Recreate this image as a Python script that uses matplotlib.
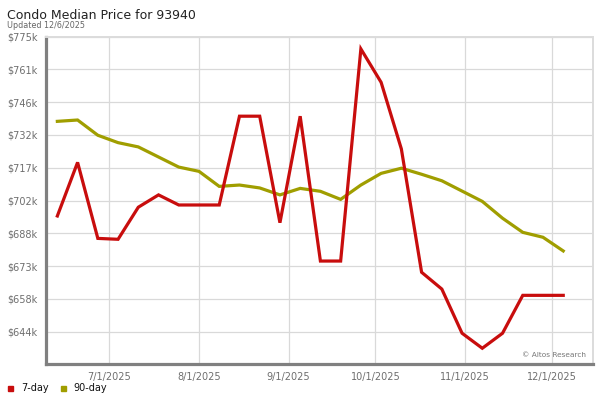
import matplotlib
matplotlib.use("Agg")
import matplotlib.pyplot as plt
import matplotlib.dates as mdates
from matplotlib.patches import Rectangle
import numpy as np
import pandas as pd

# ---- data (values in $k) ----
dates = pd.date_range("2025-06-13", "2025-12-05", freq="7D")
price_7day = [695.4, 719.3, 685.4, 685.0, 699.3, 704.8, 700.3, 700.3, 700.3,
              739.9, 739.9, 692.4, 739.9, 675.3, 675.3, 769.9, 755.0, 725.3,
              670.3, 662.8, 643.1, 636.4, 643.1, 660.0, 660.0, 660.0]
price_90day = [737.6, 738.2, 731.4, 728.1, 726.2, 721.7, 717.2, 715.3, 708.6,
               709.2, 707.9, 704.8, 707.7, 706.4, 702.8, 709.2, 714.4, 716.7,
               714.0, 711.1, 706.5, 701.9, 694.4, 688.1, 685.9, 679.8]
y_tick_labels = ["$775k", "$761k", "$746k", "$732k", "$717k", "$702k",
                 "$688k", "$673k", "$658k", "$644k"]
y_top, y_step = 775.4, 14.62
x_tick_dates = ["2025-07-01", "2025-08-01", "2025-09-01", "2025-10-01",
                "2025-11-01", "2025-12-01"]
x_tick_labels = ["7/1/2025", "8/1/2025", "9/1/2025", "10/1/2025",
                 "11/1/2025", "12/1/2025"]
title = "Condo Median Price for 93940"
subtitle = "Updated 12/6/2025"
series_names = ["7-day", "90-day"]

RED = "#c80d0d"
OLIVE = "#a09e00"
GRID = "#d9d9d9"

fig = plt.figure(figsize=(6, 4), dpi=100)
W, H = 600, 400
left, right, top, bottom = 45.5, 593.3, 36.6, 364.4
ax = fig.add_axes([left / W, 1 - bottom / H, (right - left) / W, (bottom - top) / H])

x = mdates.date2num(dates)
ax.plot(x, price_90day, color=OLIVE, lw=2.3, solid_joinstyle="miter", zorder=3)
ax.plot(x, price_7day, color=RED, lw=2.3, solid_joinstyle="miter", zorder=4)

yt = [y_top - i * y_step for i in range(len(y_tick_labels))]
ax.set_ylim(y_top - len(y_tick_labels) * y_step, y_top)
ax.set_yticks(yt)
ax.set_yticklabels(y_tick_labels)

xt = mdates.date2num(pd.to_datetime(x_tick_dates))
ax.set_xticks(xt)
ax.set_xticklabels(x_tick_labels)
ax.set_xlim(x[0] - 4.1, x[-1] + 10.4)

ax.grid(True, color=GRID, lw=0.9)
ax.set_axisbelow(True)
ax.tick_params(axis="both", length=0, labelsize=7, labelcolor="#6e6e6e")
ax.tick_params(axis="y", pad=5.5)
ax.tick_params(axis="x", pad=5.2)

for s in ["left", "bottom"]:
    ax.spines[s].set_color("#808080")
    ax.spines[s].set_linewidth(2.3)
for s in ["top", "right"]:
    ax.spines[s].set_color("#dcdcdc")
    ax.spines[s].set_linewidth(1.4)

ax.text(0.987, 0.0235, "\u00a9 Altos Research", transform=ax.transAxes,
        ha="right", va="baseline", fontsize=5.3, color="#777777")

fig.text(7 / W, 1 - 18.7 / H, title, fontsize=9, color="#222222",
         ha="left", va="baseline")
fig.text(7 / W, 1 - 27.8 / H, subtitle, fontsize=5.8, color="#666666",
         ha="left", va="baseline")

# legend
for color, name, sx in [(RED, series_names[0], 8.3), (OLIVE, series_names[1], 60.5)]:
    fig.patches.append(Rectangle((sx / W, 1 - 391.3 / H), 5 / W, 5.3 / H,
                                 transform=fig.transFigure, color=color))
    fig.text((sx + 13) / W, 1 - 390.6 / H, name, fontsize=7, color="#111111",
             ha="left", va="baseline")

fig.savefig("out.png", dpi=100)
